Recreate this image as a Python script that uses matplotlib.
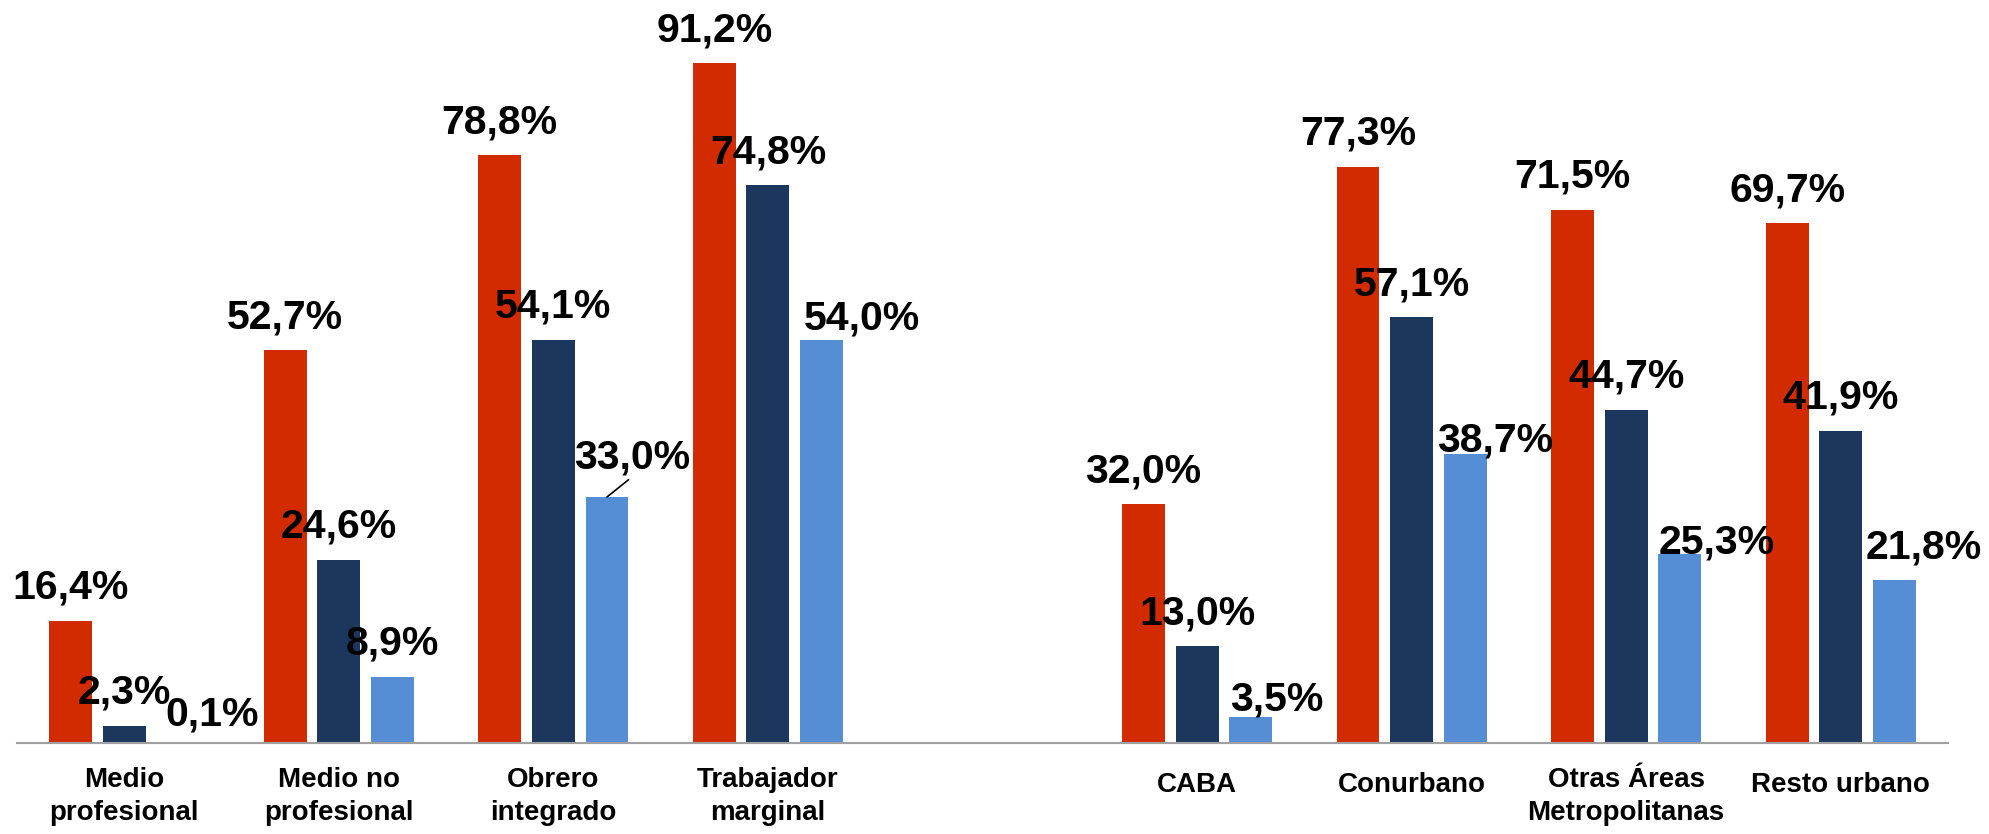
import numpy as np
import matplotlib
matplotlib.use('Agg')
import matplotlib.pyplot as plt

plt.rcParams['font.family'] = ['Liberation Sans', 'DejaVu Sans']

# categorias (la posicion vacia separa los dos bloques)
categorias = ['Medio\nprofesional', 'Medio no\nprofesional', 'Obrero\nintegrado',
              'Trabajador\nmarginal', '', 'CABA', 'Conurbano',
              'Otras Áreas\nMetropolitanas', 'Resto urbano']

serie_rojo = [16.4, 52.7, 78.8, 91.2, np.nan, 32.0, 77.3, 71.5, 69.7]
serie_azul = [2.3, 24.6, 54.1, 74.8, np.nan, 13.0, 57.1, 44.7, 41.9]
serie_celeste = [0.1, 8.9, 33.0, 54.0, np.nan, 3.5, 38.7, 25.3, 21.8]

colores = ['#D22B00', '#1B375E', '#568ED6']

# desplazamiento de las etiquetas en pixeles (dx, dy sobre la barra)
desp_celeste = [(34, 17), (0, 22), (25, 28), (40, 11), (0, 0),
                (26, 6), (30, 3), (37, 1), (29, 22)]

fig = plt.figure(figsize=(19.89, 8.34), dpi=100)
ax = fig.add_axes([17/1989, 91/834, 1931/1989, 743/834])

x = np.arange(len(categorias))
ancho = 0.2
paso = 0.25
series = [serie_rojo, serie_azul, serie_celeste]

for i, serie in enumerate(series):
    xs = x + (i - 1)*paso
    ax.bar(xs, serie, ancho, color=colores[i], edgecolor='none')
    for j, v in enumerate(serie):
        if np.isnan(v):
            continue
        txt = '{:.1f}%'.format(v).replace('.', ',')
        if i == 2:
            dx, dy = desp_celeste[j]
        else:
            dx, dy = 0, 22
        if i == 2 and j == 2:
            # etiqueta con linea guia
            ax.annotate(txt, xy=(xs[j], v), xytext=(dx*0.72, dy*0.72),
                        textcoords='offset points', ha='center', va='baseline',
                        fontsize=29.5, fontweight='bold',
                        arrowprops=dict(arrowstyle='-', color='black', lw=1.2,
                                        shrinkA=0, shrinkB=0, relpos=(0.5, 0)))
        else:
            ax.annotate(txt, xy=(xs[j], v), xytext=(dx*0.72, dy*0.72),
                        textcoords='offset points', ha='center', va='baseline',
                        fontsize=29.5, fontweight='bold')

for j, c in enumerate(categorias):
    # baseline de la ultima linea
    n = c.count('\n')
    ax.text(x[j], -(49 + 28*n)/743, c, transform=ax.get_xaxis_transform(),
            ha='center', va='baseline', fontsize=20, fontweight='bold',
            linespacing=1.36)

ax.set_xlim(-0.5, 8.5)
ax.set_ylim(0, 743/7.456)
for s in ['top', 'right', 'left']:
    ax.spines[s].set_visible(False)
ax.spines['bottom'].set_color('#A0A0A0')
ax.spines['bottom'].set_linewidth(1.5)
ax.set_xticks([])
ax.set_yticks([])
ax.patch.set_visible(False)

plt.savefig('out.png', dpi=100)
